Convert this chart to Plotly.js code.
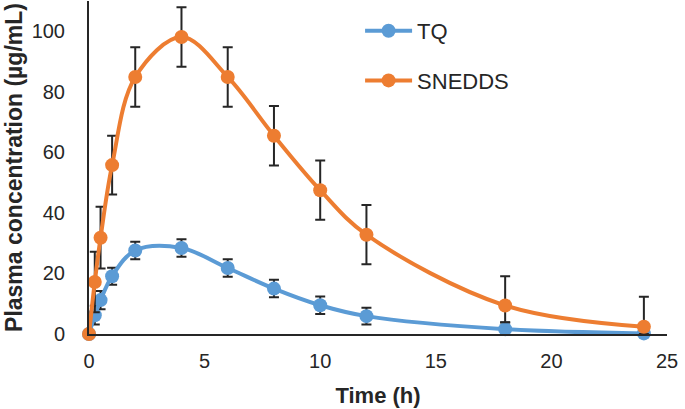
<!DOCTYPE html>
<html>
<head>
<meta charset="utf-8">
<script src="https://cdn.plot.ly/plotly-3.0.1.min.js"></script>
<style>
  html, body { margin: 0; padding: 0; background: #ffffff; }
  #chart { width: 685px; height: 409px; }
</style>
</head>
<body>
<div id="chart"></div>
<script>
// Time points (h)
const timeTQ = [0, 0.25, 0.5, 1, 2, 4, 6, 8, 10, 12, 18, 24];
const timeSNEDDS = [0, 0.25, 0.5, 1, 2, 4, 6, 8, 10, 12, 18, 24];

// Plasma concentration (µg/mL)
const tqValues = [0, 6.2, 11.2, 19.1, 27.6, 28.4, 21.8, 15.0, 9.5, 5.9, 1.6, 0.2];
const tqErrors = [0, 3.1, 3.0, 2.8, 2.9, 2.9, 2.9, 2.9, 2.9, 2.8, 2.2, 0.5];

const snValues = [0, 17.2, 31.8, 55.8, 84.9, 98.1, 84.9, 65.5, 47.5, 32.8, 9.4, 2.4];
const snErrorsPlus = [0, 10.0, 10.2, 9.7, 9.8, 9.8, 9.8, 9.8, 9.8, 9.8, 9.7, 9.9];
const snErrorsMinus = [0, 10.0, 10.2, 9.7, 9.8, 9.8, 9.8, 9.8, 9.8, 9.8, 5.5, 2.4];

const seriesNames = ['TQ', 'SNEDDS'];
const xTicks = [0, 5, 10, 15, 20, 25];
const yTicks = [0, 20, 40, 60, 80, 100];

const blue = '#5B9BD5';
const orange = '#ED7D31';
const errColor = '#262626';
const font = 'Liberation Sans, Arial, sans-serif';

const traces = [
  {
    x: timeTQ, y: tqValues, name: seriesNames[0], type: 'scatter', mode: 'lines+markers',
    legendgroup: 'a',
    line: { color: blue, width: 4, shape: 'spline', smoothing: 1 },
    marker: { color: blue, size: 14 },
    error_y: { type: 'data', array: tqErrors, visible: true, color: errColor, thickness: 2, width: 5 },
    cliponaxis: false
  },
  {
    x: timeSNEDDS, y: snValues, name: seriesNames[1], type: 'scatter', mode: 'lines+markers',
    legendgroup: 'b',
    line: { color: orange, width: 4, shape: 'spline', smoothing: 1 },
    marker: { color: orange, size: 14 },
    error_y: { type: 'data', symmetric: false, array: snErrorsPlus, arrayminus: snErrorsMinus, visible: true, color: errColor, thickness: 2, width: 5 },
    cliponaxis: false
  }
];

const layout = {
  width: 685, height: 409,
  margin: { l: 89, r: 18, t: 1, b: 75 },
  paper_bgcolor: '#ffffff', plot_bgcolor: '#ffffff',
  font: { family: font, color: '#262626', size: 20 },
  showlegend: true,
  legend: {
    x: 0.469, y: 0.973, xanchor: 'left', yanchor: 'top',
    bgcolor: 'rgba(0,0,0,0)', font: { size: 22, color: '#262626', family: font },
    tracegroupgap: 18, itemwidth: 47
  },
  xaxis: {
    range: [0, 25], tickvals: xTicks, ticktext: xTicks.map(String),
    showline: true, linecolor: '#262626', linewidth: 2,
    showgrid: false, zeroline: false,
    ticks: 'outside', ticklen: 8, tickcolor: 'rgba(0,0,0,0)',
    tickfont: { size: 20, color: '#262626', family: font },
    title: { text: '<b>Time (h)</b>', font: { size: 22, color: '#262626', family: font }, standoff: 17 }
  },
  yaxis: {
    range: [0, 110], tickvals: yTicks, ticktext: yTicks.map(String),
    showline: true, linecolor: '#262626', linewidth: 2,
    showgrid: false, zeroline: false,
    ticks: 'outside', ticklen: 18, tickcolor: 'rgba(0,0,0,0)',
    tickfont: { size: 20, color: '#262626', family: font },
    title: { text: '<b>Plasma concentration (µg/mL)</b>', font: { size: 23, color: '#262626', family: font }, standoff: 3 }
  }
};

Plotly.newPlot('chart', traces, layout, { displayModeBar: false, staticPlot: true });
</script>
</body>
</html>
